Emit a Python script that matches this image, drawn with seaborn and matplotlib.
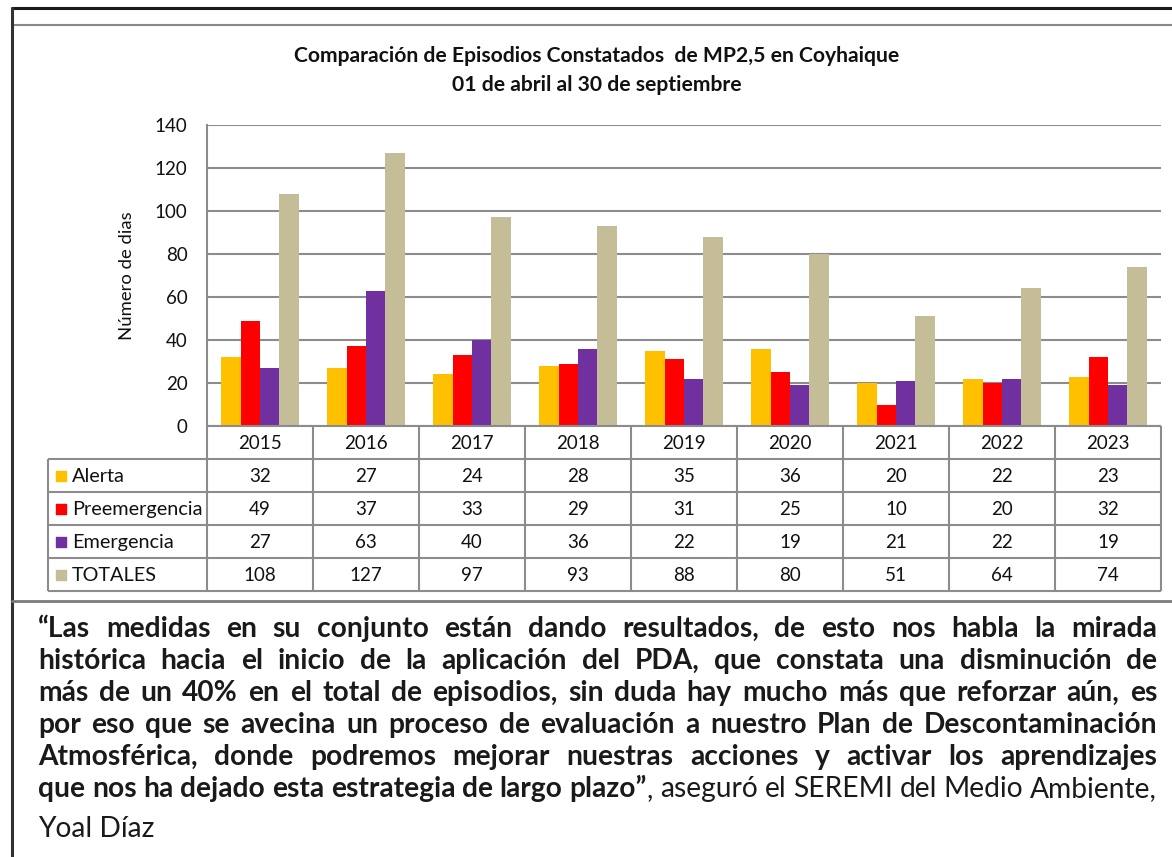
import numpy as np
import pandas as pd
import matplotlib
matplotlib.use("Agg")
import matplotlib.pyplot as plt
import seaborn as sns

# datos del gráfico
years = ["2015", "2016", "2017", "2018", "2019", "2020", "2021", "2022", "2023"]
alerta = [32, 27, 24, 28, 35, 36, 20, 22, 23]
preemergencia = [49, 37, 33, 29, 31, 25, 10, 20, 32]
emergencia = [27, 63, 40, 36, 22, 19, 21, 22, 19]
totales = [108, 127, 97, 93, 88, 80, 51, 64, 74]
series_names = ["Alerta", "Preemergencia", "Emergencia", "TOTALES"]
colores = ["#FFC000", "#FF0000", "#7030A0", "#C4BD97"]

titulo = "Comparación de Episodios Constatados  de MP2,5 en Coyhaique\n01 de abril al 30 de septiembre"

quote_lines = [
    "“Las medidas en su conjunto están dando resultados, de esto nos habla la mirada",
    "histórica hacia el inicio de la aplicación del PDA, que constata una disminución de",
    "más de un 40% en el total de episodios, sin duda hay mucho más que reforzar aún, es",
    "por eso que se avecina un proceso de evaluación a nuestro Plan de Descontaminación",
    "Atmosférica, donde podremos mejorar nuestras acciones y activar los aprendizajes",
    "que nos ha dejado esta estrategia de largo plazo”",
]
quote_tail = ", aseguró el SEREMI del Medio Ambiente,"
firma = "Yoal Díaz"

W, H = 1172, 857


def fx(px):
    return px / W


def fy(py):
    return 1 - py / H


sns.set_theme(style="white")
plt.rcParams['font.family'] = ['Lato', 'DejaVu Sans']

fig = plt.figure(figsize=(W / 100, H / 100), dpi=100)

# marco de la página
fig.add_artist(plt.Line2D([fx(12), 1], [fy(8), fy(8)], color="#1a1a1a", lw=2.2))
fig.add_artist(plt.Line2D([fx(12), 1], [fy(25), fy(25)], color="#8a8a8a", lw=1.5))
fig.add_artist(plt.Line2D([fx(12), fx(12)], [fy(8), 0], color="#333333", lw=2.2))
fig.add_artist(plt.Line2D([fx(12), 1], [fy(601), fy(601)], color="#7a7a7a", lw=2))

# barras
ax = fig.add_axes([fx(207), fy(426), (1161 - 207) / W, (426 - 125) / H])
df = pd.DataFrame({
    "year": years * 4,
    "serie": np.repeat(series_names, len(years)),
    "dias": alerta + preemergencia + emergencia + totales,
})
sns.barplot(data=df, x="year", y="dias", hue="serie",
            palette=dict(zip(series_names, colores)), saturation=1,
            width=0.73, linewidth=0, legend=False, ax=ax)
ax.set_xlim(-0.5, 8.5)
ax.set_ylim(0, 140)
ax.set_yticks(range(0, 141, 20))
ax.yaxis.grid(True, color="#8c8c8c", linewidth=1.5)
ax.set_axisbelow(True)
ax.set_xticks([])
ax.set_xlabel("")
ax.set_ylabel("Número de dias", fontsize=13.3, color="#111111", labelpad=14)
ax.tick_params(axis="y", length=0, pad=14, labelsize=13.5, labelcolor="#111111")
for s in ["top", "right", "bottom"]:
    ax.spines[s].set_visible(False)
ax.spines["left"].set_color("#8c8c8c")
ax.spines["left"].set_linewidth(1.5)

fig.text(fx(597), fy(70.5), titulo, ha="center", va="center", fontsize=15.2,
         fontweight="bold", color="#111111", linespacing=1.6)

# tabla de datos
tax = fig.add_axes([fx(48), fy(591), (1161 - 48) / W, (591 - 426) / H])
tax.set_xlim(-2.0, 8.5)
tax.set_ylim(5, 0)
tax.axis("off")
lc = "#8c8c8c"
tax.hlines(0, -0.5, 8.5, color=lc, lw=1.5, clip_on=False)
tax.hlines([1, 2, 3, 4, 5], -2.0, 8.5, color=lc, lw=1.5, clip_on=False)
tax.vlines(-2.0, 1, 5, color=lc, lw=1.5, clip_on=False)
tax.vlines(np.arange(-0.5, 9.0, 1.0), 0, 5, color=lc, lw=1.5, clip_on=False)

for i, y in enumerate(years):
    tax.text(i, 0.52, y, ha="center", va="center", fontsize=13.5, color="#111111")

valores = [alerta, preemergencia, emergencia, totales]
for r, (nombre, col, vals) in enumerate(zip(series_names, colores, valores)):
    yy = r + 1.5
    tax.scatter([-2.0 + 0.127], [yy], marker="s", s=45, color=col, clip_on=False)
    tax.text(-2.0 + 0.225, yy + 0.02, nombre, ha="left", va="center", fontsize=14.3, color="#111111")
    for i, v in enumerate(vals):
        tax.text(i, yy + 0.02, str(v), ha="center", va="center", fontsize=13.5, color="#111111")

# párrafo justificado
renderer = fig.canvas.get_renderer()
x_left, x_right = 38, 1157
baselines = [637, 669, 701, 733, 765, 797]


def width_of(txt, weight, size):
    t = fig.text(0, 0, txt, fontsize=size, fontweight=weight)
    w = t.get_window_extent(renderer).width
    t.remove()
    return w


lineas = []
for k, linea in enumerate(quote_lines):
    palabras = [[(w, "bold")] for w in linea.split(" ")]
    if k == len(quote_lines) - 1:
        cola = quote_tail.split(" ")
        palabras[-1].append((cola[0], "normal"))
        palabras += [[(w, "normal")] for w in cola[1:]]
    lineas.append(palabras)

# tamaño de letra: la línea más larga llena el ancho con espacios normales
fs0 = 17
esp0 = width_of("a a", "bold", fs0) - width_of("aa", "bold", fs0)
nat = 0
for palabras in lineas:
    w = sum(width_of(t, wt, fs0) for p in palabras for t, wt in p)
    nat = max(nat, w + esp0 * (len(palabras) - 1))
fs = fs0 * (x_right - x_left) / nat

for palabras, base in zip(lineas, baselines):
    anchos = [[width_of(t, wt, fs) for t, wt in p] for p in palabras]
    total = sum(sum(a) for a in anchos)
    gap = (x_right - x_left - total) / (len(palabras) - 1)
    x = x_left
    for p, a in zip(palabras, anchos):
        for (t, wt), aw in zip(p, a):
            fig.text(fx(x), fy(base), t, fontsize=fs, fontweight=wt,
                     ha="left", va="baseline", color="#1a1a1a")
            x += aw
        x += gap

fig.text(fx(x_left), fy(837), firma, fontsize=fs, ha="left", va="baseline", color="#1a1a1a")

fig.savefig("out.png", dpi=100)
